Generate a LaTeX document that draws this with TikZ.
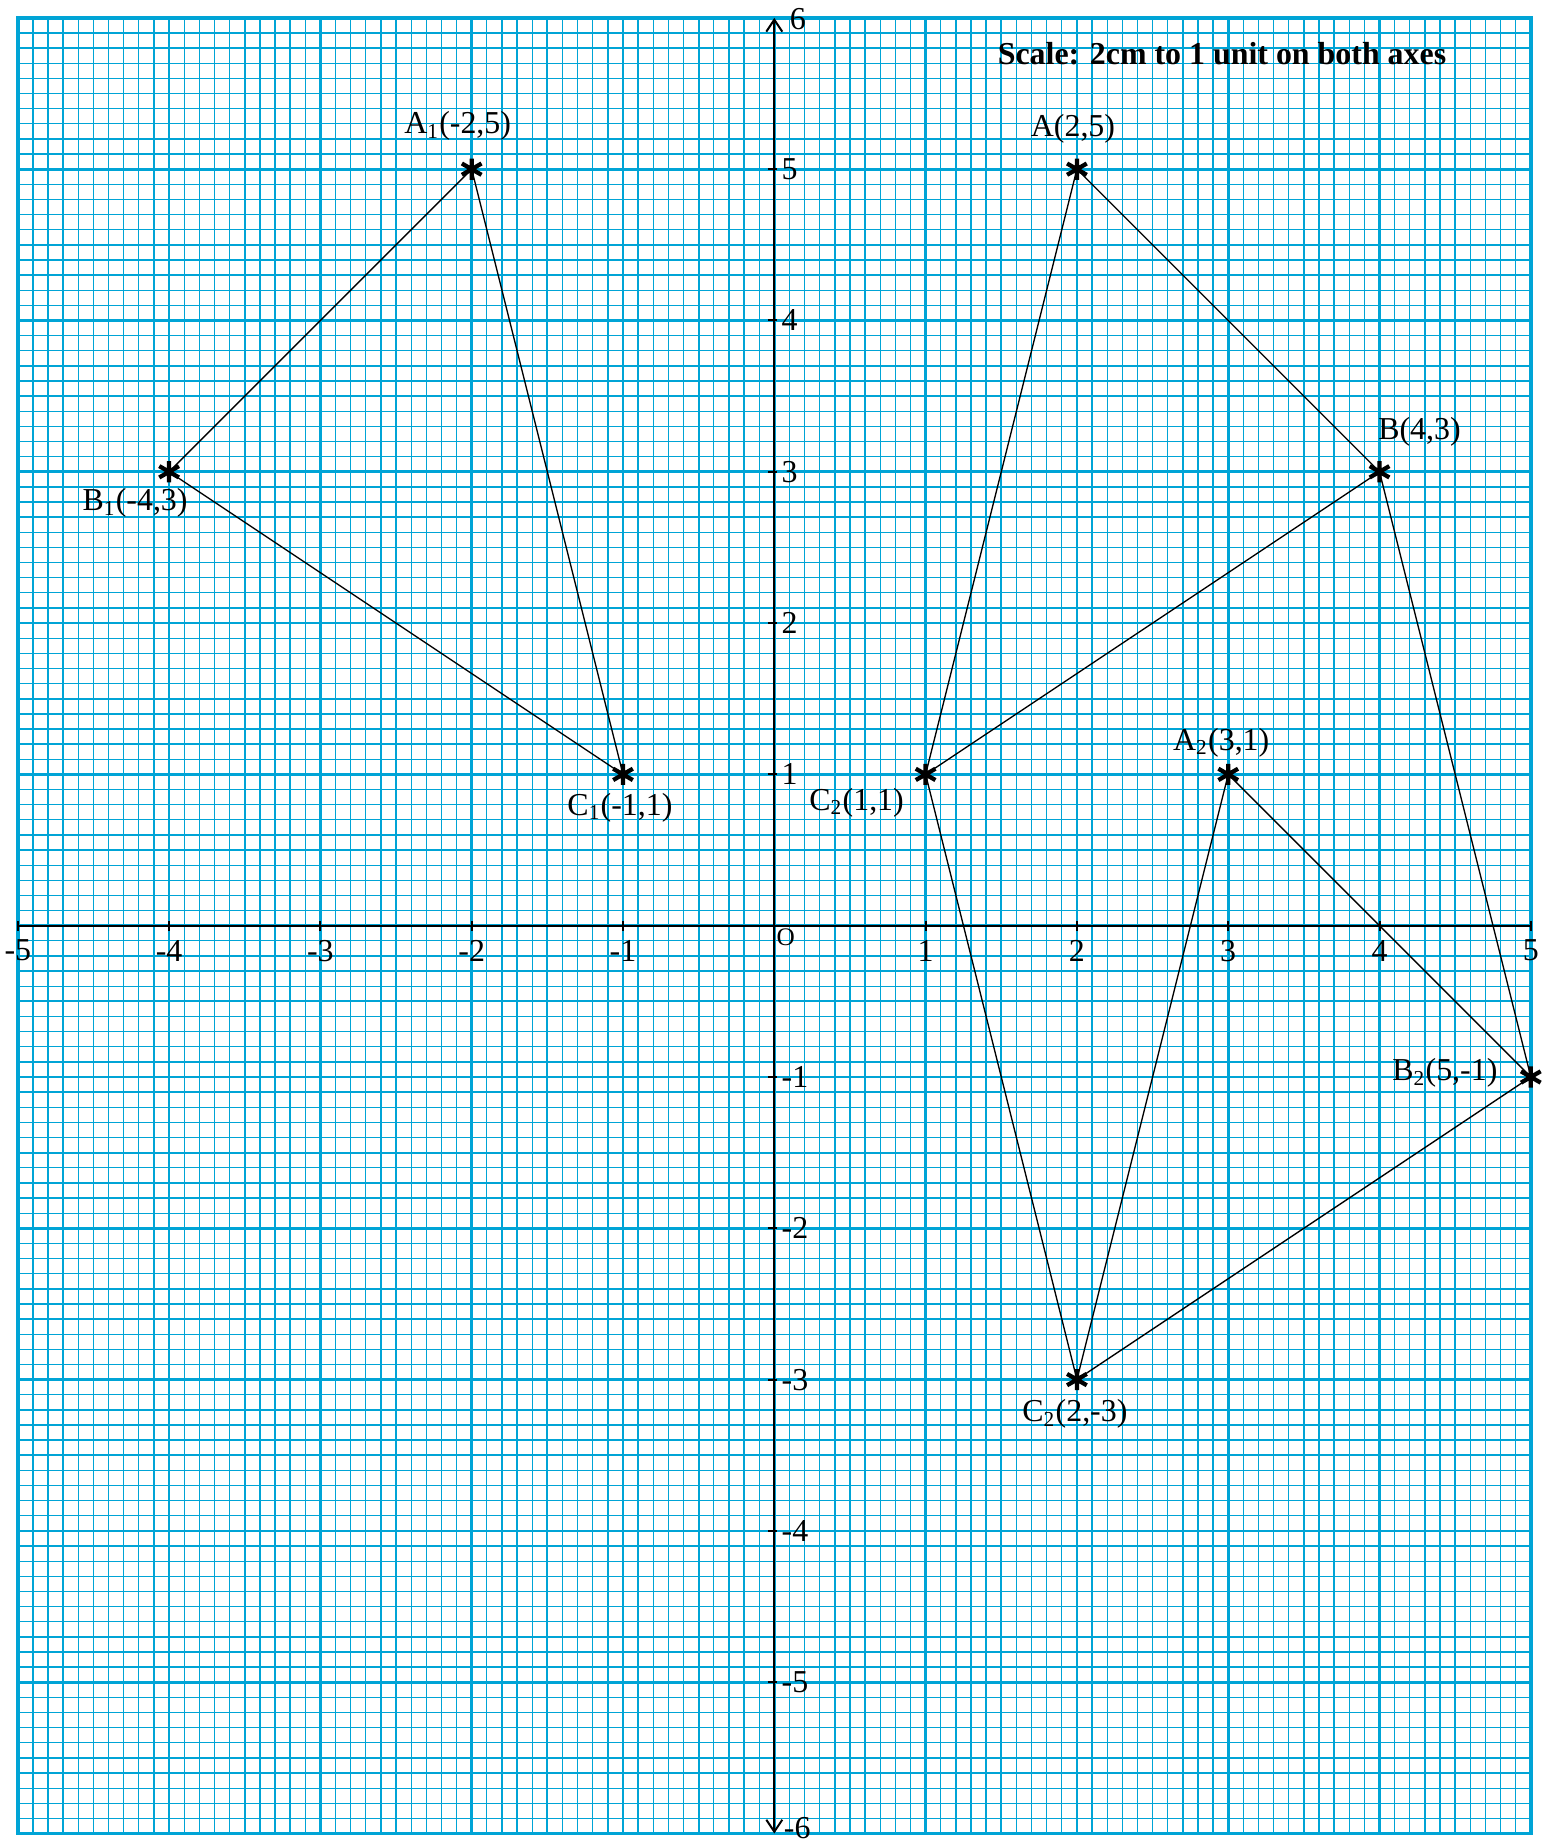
\documentclass[tikz,border=0pt]{standalone}
\usepackage{fontspec}
\setmainfont{Liberation Serif}
\usetikzlibrary{arrows.meta}
\definecolor{gridblue}{RGB}{0,164,214}
\begin{document}
\begin{tikzpicture}[x=2cm,y=2cm,
  minorgrid/.style={gridblue,line width=0.5pt},
  halfgrid/.style={gridblue,line width=0.7pt},
  majorgrid/.style={gridblue,line width=1.05pt},
  axisline/.style={black,line width=0.75pt},
  edge/.style={black,line width=0.5pt},
  lab/.style={font=\fontsize{12}{14}\selectfont,inner sep=0pt},
  ticklab/.style={font=\fontsize{12}{14}\selectfont,inner sep=0pt},
  astmark/.pic={\draw[black,line width=1.6pt] (90:0.07)--(270:0.07) (30:0.075)--(210:0.075) (150:0.075)--(330:0.075);}
]
\useasboundingbox (-5.1177,-6.0628) rectangle (5.1335,6.1183);
\fill[white] (-5.1177,-6.0628) rectangle (5.1335,6.1183);
% graph paper
\draw[minorgrid] (-5,-6) grid[step=0.1] (5,6);
\draw[halfgrid] (-5,-6) grid[step=0.5] (5,6);
\draw[majorgrid] (-5,-6) grid[step=1] (5,6);
\draw[gridblue,line width=1.3pt] (-5,-6) rectangle (5,6);
% axes
\coordinate (xl) at (-5,0);
\coordinate (xr) at (5,0);
\coordinate (yb) at (0,-6);
\coordinate (yt) at (0,6);
\draw[axisline] (xl) -- (xr);
\draw[axisline,{Straight Barb[length=4.5pt,width=6pt,line width=0.75pt]}-{Straight Barb[length=4.5pt,width=6pt,line width=0.75pt]}] (yb) -- (yt);
\foreach \i in {-5,-4,-3,-2,-1,1,2,3,4,5} {
  \draw[axisline] (\i,-0.033) -- (\i,0.033);
  \node[ticklab] (xlab\i) at (\i,-0.165) {\i};
}
\foreach \j in {-5,-4,-3,-2,-1,1,2,3,4,5} {
  \draw[axisline] (-0.04,\j) -- (0.02,\j);
  \node[ticklab,anchor=west] (ylab\j) at (0.045,\j) {\j};
}
\node[ticklab,anchor=west] (ylab6) at (0.1,5.99) {6};
\node[ticklab,anchor=base west] (ylabm6) at (0.06,-6.035) {-6};
\node[font=\fontsize{9.5}{11}\selectfont,inner sep=0pt] (orig) at (0.075,-0.075) {O};
% title
\node[lab,font=\fontsize{12}{14}\selectfont\bfseries] (title) at (2.959,5.761) {Scale: 2cm to 1 unit on both axes};
% points
\coordinate (A) at (2,5);
\coordinate (B) at (4,3);
\coordinate (C) at (1,1);
\coordinate (A1) at (-2,5);
\coordinate (B1) at (-4,3);
\coordinate (C1) at (-1,1);
\coordinate (A2) at (3,1);
\coordinate (B2) at (5,-1);
\coordinate (C2) at (2,-3);
% edges
\draw[edge] (A) -- (B) -- (C) -- cycle;
\draw[edge] (A1) -- (B1) -- (C1) -- cycle;
\draw[edge] (A2) -- (B2) -- (C2) -- cycle;
\draw[edge] (C) -- (C2);
\draw[edge] (B) -- (B2);
% markers
\foreach \p in {A,B,C,A1,B1,C1,A2,B2,C2} { \pic at (\p) {astmark}; }
% labels
\node[lab] (lA) at ([shift={(-0.026,0.264)}]A) {A(2,5)};
\node[lab] (lB) at ([shift={(0.264,0.264)}]B) {B(4,3)};
\node[lab] (lC) at ([shift={(-0.456,-0.185)}]C) {C\textsubscript{2}(1,1)};
\node[lab] (lA1) at ([shift={(-0.093,0.284)}]A1) {A\textsubscript{1}(-2,5)};
\node[lab] (lB1) at ([shift={(-0.225,-0.205)}]B1) {B\textsubscript{1}(-4,3)};
\node[lab] (lC1) at ([shift={(-0.02,-0.218)}]C1) {C\textsubscript{1}(-1,1)};
\node[lab] (lA2) at ([shift={(-0.046,0.211)}]A2) {A\textsubscript{2}(3,1)};
\node[lab] (lB2) at ([shift={(-0.568,0.026)}]B2) {B\textsubscript{2}(5,-1)};
\node[lab] (lC2) at ([shift={(-0.013,-0.225)}]C2) {C\textsubscript{2}(2,-3)};
\end{tikzpicture}
\end{document}
